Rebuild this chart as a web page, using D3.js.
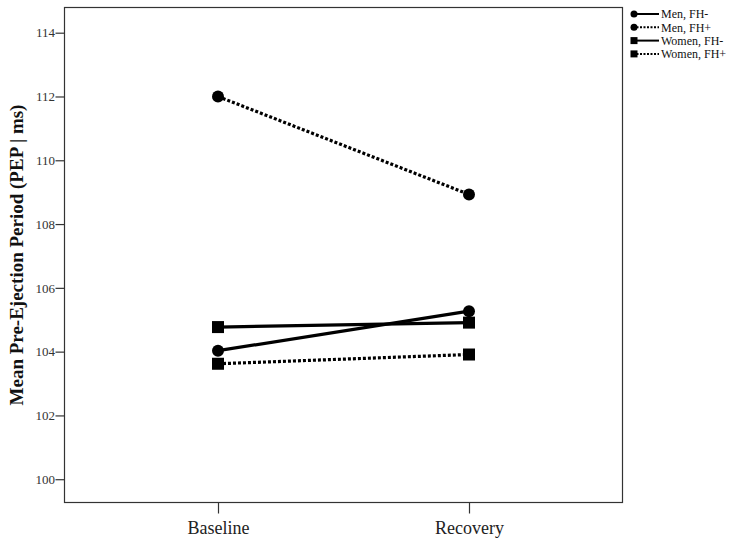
<!DOCTYPE html>
<html><head><meta charset="utf-8">
<script src="https://cdn.jsdelivr.net/npm/d3@7"></script>
<style>body{margin:0;background:#fff}svg{display:block}</style>
</head><body>
<svg id="chart" width="735" height="545"></svg>
<script>
const phases = ["Baseline", "Recovery"];
const seriesNames = ["Men, FH-", "Men, FH+", "Women, FH-", "Women, FH+"];
const menFHminus = [104.03, 105.27];
const menFHplus = [112.0, 108.93];
const womenFHminus = [104.77, 104.91];
const womenFHplus = [103.62, 103.91];
const yTicks = [100, 102, 104, 106, 108, 110, 112, 114];
const markerShapes = ["circle", "circle", "square", "square"];
const dashed = [false, true, false, true];

const series = seriesNames.map((n, i) => ({
  name: n,
  values: [menFHminus, menFHplus, womenFHminus, womenFHplus][i],
  shape: markerShapes[i], dotted: dashed[i]
}));

const svg = d3.select("#chart");
const L = 64.5, R = 622.5, T = 7.5, B = 502.5;
const y = d3.scaleLinear().domain([99.27, 114.79]).range([B, T]);
const x = d3.scalePoint().domain(phases).range([218, 469]);

// frame
svg.append("rect").attr("x", L).attr("y", T).attr("width", R - L).attr("height", B - T)
  .attr("fill", "none").attr("stroke", "#333").attr("stroke-width", 1.2);

// y axis
const yAxis = d3.axisLeft(y).tickValues(yTicks).tickSize(9).tickFormat(d3.format("d"));
const gy = svg.append("g").attr("transform", `translate(${L},0)`).call(yAxis);
gy.select(".domain").remove();
gy.selectAll("line").attr("stroke", "#333").attr("stroke-width", 1.2);
gy.selectAll("text").attr("font-family", "Liberation Serif, Times New Roman, serif")
  .attr("font-size", 13).attr("fill", "#333").attr("x", -9.5);

// x axis
const xAxis = d3.axisBottom(x).tickSize(11).tickPadding(8);
const gx = svg.append("g").attr("transform", `translate(0,${B})`).call(xAxis);
gx.select(".domain").remove();
gx.selectAll("line").attr("stroke", "#333").attr("stroke-width", 1.2);
gx.selectAll("text").attr("font-family", "Liberation Serif, Times New Roman, serif")
  .attr("font-size", 18).attr("fill", "#222").attr("dy", "0.71em");

// y label
svg.append("text").attr("transform", `translate(23,255) rotate(-90)`)
  .attr("text-anchor", "middle").attr("font-family", "Liberation Serif, Times New Roman, serif")
  .attr("font-weight", "bold").attr("font-size", 19).attr("fill", "#111")
  .text("Mean Pre-Ejection Period (PEP | ms)");

// lines
const line = d3.line().x((d, i) => x(phases[i])).y(d => y(d));
series.forEach(s => {
  svg.append("path").datum(s.values).attr("d", line).attr("fill", "none")
    .attr("stroke", "#000").attr("stroke-width", 3.2)
    .attr("stroke-dasharray", s.dotted ? "3,2" : null);
});
function marker(g, shape, cx, cy, size) {
  if (shape === "circle") g.append("circle").attr("cx", cx).attr("cy", cy).attr("r", size / 2).attr("fill", "#000");
  else g.append("rect").attr("x", cx - size / 2).attr("y", cy - size / 2).attr("width", size).attr("height", size).attr("fill", "#000");
}
series.forEach(s => {
  s.values.forEach((v, i) => marker(svg, s.shape, x(phases[i]), y(v), 12));
});

// legend
const lg = svg.append("g");
series.forEach((s, i) => {
  const yy = 14 + i * 13.3;
  lg.append("line").attr("x1", 633).attr("x2", 659).attr("y1", yy).attr("y2", yy)
    .attr("stroke", "#000").attr("stroke-width", 2).attr("stroke-dasharray", s.dotted ? "2,1.5" : null);
  marker(lg, s.shape, 634, yy, 7);
  lg.append("text").attr("x", 661).attr("y", yy).attr("dy", "0.35em")
    .attr("font-family", "Liberation Serif, Times New Roman, serif").attr("font-size", 12)
    .attr("fill", "#111").text(s.name);
});
</script>
</body></html>
